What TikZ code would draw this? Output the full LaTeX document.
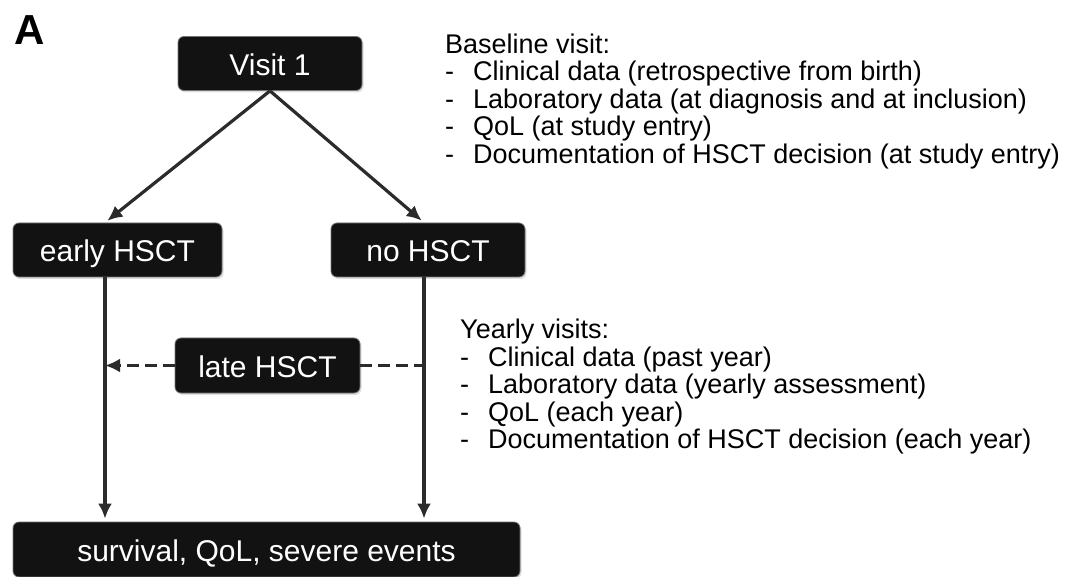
\documentclass[tikz,border=0pt]{standalone}
\usepackage{fontspec}
\setmainfont{Liberation Sans}
\usetikzlibrary{arrows.meta,shadows}

\definecolor{boxfill}{HTML}{121212}
\definecolor{linegray}{HTML}{2B2B2B}

\tikzset{
  box/.style={rounded corners=6pt, fill=boxfill, draw=black!55, line width=0.8pt,
    text=white, minimum height=54pt, inner sep=0pt,
    text height=26pt, text depth=2pt,
    font=\fontsize{30}{30}\selectfont,
    drop shadow={shadow xshift=1.5pt, shadow yshift=-2pt, opacity=0.25}},
  arr/.style={draw=linegray, line width=3.2pt, -{Latex[length=15pt,width=14pt]}},
  dasharr/.style={arr, line width=3.8pt, dash pattern=on 12pt off 6pt},
  list/.style={anchor=north west, inner sep=0pt, align=left, font=\fontsize{27}{27.5}\selectfont}
}
\newcommand{\itm}{\makebox[28pt][l]{-}}

\begin{document}
\begin{tikzpicture}[x=1pt,y=-1pt]
\useasboundingbox (0,0) rectangle (1071,577);

\node[anchor=base west, font=\fontsize{42}{42}\selectfont\bfseries] (panel) at (11,45) {A};

\node[box, minimum width=184pt] (visit) at (270,63.5) {Visit 1};
\node[box, minimum width=209pt] (early) at (117.5,250) {early HSCT};
\node[box, minimum width=194pt] (nohsct) at (428,250) {no HSCT};
\node[box, minimum width=185pt, minimum height=55pt] (late) at (267.5,365.5) {late HSCT};
\node[box, minimum width=507pt, minimum height=55pt] (outcome) at (266.5,549.5) {survival, QoL, severe events};

\coordinate (eline) at (105,0);
\coordinate (nline) at (424,0);

\draw[arr, shorten >=3pt] (visit.south) -- (eline |- early.north);
\draw[arr, shorten >=3pt] (visit.south) -- (nline |- nohsct.north);
\draw[arr, shorten >=3pt] (eline |- early.south) -- (eline |- outcome.north);
\draw[arr, shorten >=3pt] (nline |- nohsct.south) -- (nline |- outcome.north);
\draw[dasharr] (late.west) -- (eline |- late.west);
\draw[dasharr, -] (late.east) -- (nline |- late.east);

\node[list] (baseline) at (445,33.5) {Baseline visit:\\
\itm Clinical data (retrospective from birth)\\
\itm Laboratory data (at diagnosis and at inclusion)\\
\itm QoL (at study entry)\\
\itm Documentation of HSCT decision (at study entry)};

\node[list] (yearly) at (460,319) {Yearly visits:\\
\itm Clinical data (past year)\\
\itm Laboratory data (yearly assessment)\\
\itm QoL (each year)\\
\itm Documentation of HSCT decision (each year)};
\end{tikzpicture}
\end{document}
